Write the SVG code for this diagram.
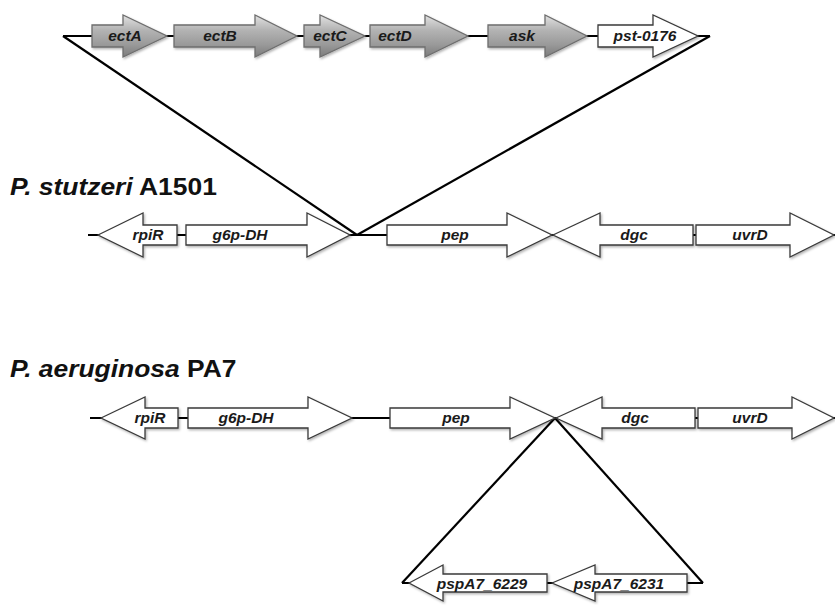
<svg xmlns="http://www.w3.org/2000/svg" width="835" height="605" viewBox="0 0 835 605">
  <defs>
    <linearGradient id="grayFill" x1="0" y1="0" x2="0" y2="1">
      <stop offset="0" stop-color="#e2e2e2"/>
      <stop offset="0.35" stop-color="#b4b4b4"/>
      <stop offset="0.7" stop-color="#9a9a9a"/>
      <stop offset="1" stop-color="#7c7c7c"/>
    </linearGradient>
    <filter id="shadow" x="-10%" y="-20%" width="125%" height="150%">
      <feDropShadow dx="1.2" dy="1.5" stdDeviation="1" flood-color="#000" flood-opacity="0.3"/>
    </filter>
  </defs>
  <style>
    .gene { stroke: #3a3a3a; stroke-width: 1.3; stroke-linejoin: miter; filter: url(#shadow); }
    .white { fill: #ffffff; }
    .gray { fill: url(#grayFill); stroke: #6e6e6e; }
    .lbl { font-family: "Liberation Sans", Arial, sans-serif; font-weight: bold; font-style: italic; font-size: 15.5px; fill: #1a1a1a; text-anchor: middle; }
    .title { font-family: "Liberation Sans", Arial, sans-serif; font-weight: bold; font-size: 24px; fill: #111; }
    .line { stroke: #000; stroke-width: 2.2; fill: none; stroke-linecap: butt; }
  </style>

  <rect width="835" height="605" fill="#ffffff"/>

  <!-- backbones and insertion lines -->
  <g id="connectors">
    <line class="line" x1="63" y1="36" x2="710" y2="36"/>
    <line class="line" x1="88" y1="235" x2="835" y2="235"/>
    <line class="line" x1="90" y1="418" x2="835" y2="418"/>
    <line class="line" x1="402" y1="583" x2="703" y2="583"/>
    <line class="line" x1="63" y1="36" x2="357" y2="235"/>
    <line class="line" x1="710" y1="36" x2="357" y2="235"/>
    <line class="line" x1="555" y1="418" x2="402" y2="583"/>
    <line class="line" x1="555" y1="418" x2="703" y2="583"/>
  </g>

  <!-- inserted ectoine cluster -->
  <g id="ectA">
    <polygon class="gene gray" points="92,25 123,25 123,15 167,36 123,57 123,47 92,47"/>
    <text class="lbl" x="125" y="41">ectA</text>
  </g>
  <g id="ectB">
    <polygon class="gene gray" points="174,25 255,25 255,15 297,36 255,57 255,47 174,47"/>
    <text class="lbl" x="220" y="41">ectB</text>
  </g>
  <g id="ectC">
    <polygon class="gene gray" points="304,25 320,25 320,15 365,36 320,57 320,47 304,47"/>
    <text class="lbl" x="330" y="41">ectC</text>
  </g>
  <g id="ectD">
    <polygon class="gene gray" points="370,25 425,25 425,15 468,36 425,57 425,47 370,47"/>
    <text class="lbl" x="395" y="41">ectD</text>
  </g>
  <g id="ask">
    <polygon class="gene gray" points="488,25 545,25 545,15 587,36 545,57 545,47 488,47"/>
    <text class="lbl" x="522" y="41">ask</text>
  </g>
  <g id="pst-0176">
    <polygon class="gene white" points="598,25 653,25 653,15 698,36 653,57 653,47 598,47"/>
    <text class="lbl" x="645" y="41">pst-0176</text>
  </g>

  <!-- P. stutzeri A1501 locus -->
  <g id="title-stutzeri">
    <text class="title" transform="translate(10,195) scale(1.1,1)"><tspan font-style="italic">P. stutzeri</tspan> A1501</text>
  </g>
  <g id="s-rpiR">
    <polygon class="gene white" points="98,235 143,213 143,225 177,225 177,245 143,245 143,257"/>
    <text class="lbl" x="148" y="240">rpiR</text>
  </g>
  <g id="s-g6p-DH">
    <polygon class="gene white" points="186,225 307,225 307,213 350,235 307,257 307,245 186,245"/>
    <text class="lbl" x="240" y="240">g6p-DH</text>
  </g>
  <g id="s-pep">
    <polygon class="gene white" points="387,225 507,225 507,213 552,235 507,257 507,245 387,245"/>
    <text class="lbl" x="455" y="240">pep</text>
  </g>
  <g id="s-dgc">
    <polygon class="gene white" points="553,235 600,213 600,225 693,225 693,245 600,245 600,257"/>
    <text class="lbl" x="634" y="240">dgc</text>
  </g>
  <g id="s-uvrD">
    <polygon class="gene white" points="696,225 790,225 790,213 834,235 790,257 790,245 696,245"/>
    <text class="lbl" x="750" y="240">uvrD</text>
  </g>

  <!-- P. aeruginosa PA7 locus -->
  <g id="title-aeruginosa">
    <text class="title" transform="translate(10,377) scale(1.1,1)"><tspan font-style="italic">P. aeruginosa</tspan> PA7</text>
  </g>
  <g id="a-rpiR">
    <polygon class="gene white" points="101,418 145,397 145,408 178,408 178,428 145,428 145,439"/>
    <text class="lbl" x="150" y="423">rpiR</text>
  </g>
  <g id="a-g6p-DH">
    <polygon class="gene white" points="188,408 308,408 308,397 352,418 308,439 308,428 188,428"/>
    <text class="lbl" x="246" y="423">g6p-DH</text>
  </g>
  <g id="a-pep">
    <polygon class="gene white" points="390,408 510,408 510,397 555,418 510,439 510,428 390,428"/>
    <text class="lbl" x="456" y="423">pep</text>
  </g>
  <g id="a-dgc">
    <polygon class="gene white" points="556,418 602,397 602,408 695,408 695,428 602,428 602,439"/>
    <text class="lbl" x="635" y="423">dgc</text>
  </g>
  <g id="a-uvrD">
    <polygon class="gene white" points="698,408 792,408 792,397 834,418 792,439 792,428 698,428"/>
    <text class="lbl" x="750" y="423">uvrD</text>
  </g>

  <!-- inserted PA7 genes -->
  <g id="pspA7_6229">
    <polygon class="gene white" points="409,583 443,565 443,574 547,574 547,592 443,592 443,601"/>
    <text class="lbl" x="482" y="589">pspA7_6229</text>
  </g>
  <g id="pspA7_6231">
    <polygon class="gene white" points="552,583 595,565 595,574 687,574 687,592 595,592 595,601"/>
    <text class="lbl" x="619" y="589">pspA7_6231</text>
  </g>
</svg>
